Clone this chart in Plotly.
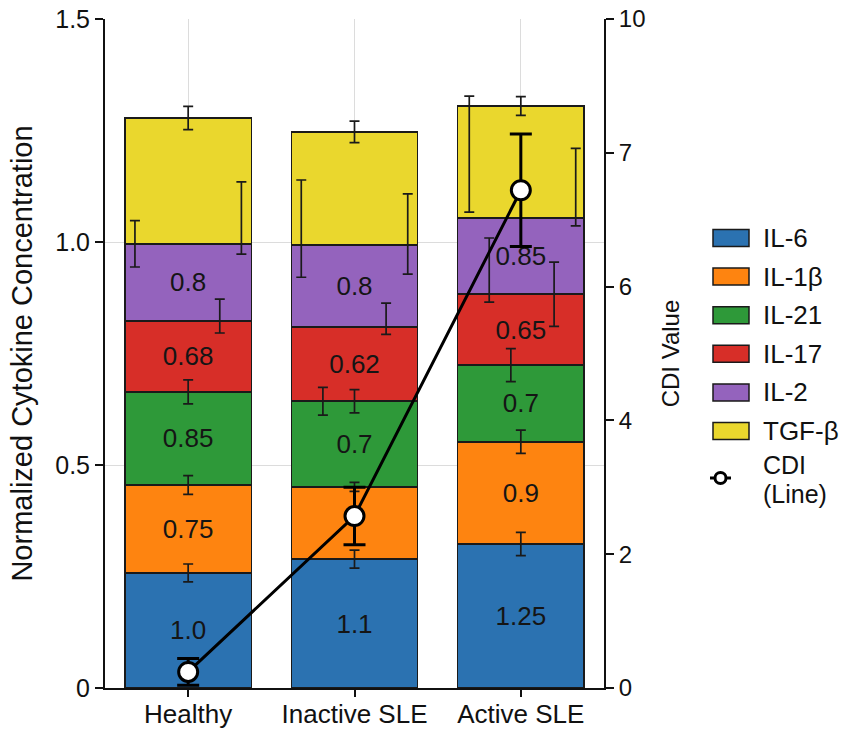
import plotly.graph_objects as go

# ---------------- data ----------------
groups = ["Healthy", "Inactive SLE", "Active SLE"]
cytokines = ["IL-6", "IL-1β", "IL-21", "IL-17", "IL-2", "TGF-β"]

# normalized segment heights (stacked)
il6 = [0.258, 0.289, 0.323]
il1b = [0.197, 0.162, 0.229]
il21 = [0.209, 0.192, 0.172]
il17 = [0.159, 0.166, 0.159]
il2 = [0.173, 0.184, 0.171]
tgfb = [0.282, 0.254, 0.251]

# value labels printed inside the segments
il6_lbl = ["1.0", "1.1", "1.25"]
il1b_lbl = ["0.75", "", "0.9"]
il21_lbl = ["0.85", "0.7", "0.7"]
il17_lbl = ["0.68", "0.62", "0.65"]
il2_lbl = ["0.8", "0.8", "0.85"]
tgfb_lbl = ["", "", ""]

# error bars on cytokine stack (group index, mean, sem)
err_group = [0, 0, 0, 0, 0, 0, 0,
             1, 1, 1, 1, 1, 1, 1, 1,
             2, 2, 2, 2, 2, 2, 2, 2]
err_mean = [0.258, 0.455, 0.664, 0.834, 0.996, 1.054, 1.278,
            0.289, 0.451, 0.643, 0.643, 0.828, 1.030, 1.018, 1.247,
            0.323, 0.552, 0.724, 0.883, 0.937, 1.197, 1.123, 1.305]
err_sem = [0.020, 0.021, 0.027, 0.038, 0.052, 0.081, 0.026,
           0.020, 0.010, 0.031, 0.026, 0.035, 0.109, 0.090, 0.024,
           0.026, 0.026, 0.037, 0.072, 0.072, 0.130, 0.087, 0.021]

# CDI line (right axis)
cdi = [0.24, 2.57, 7.44]
cdi_err = [0.20, 0.43, 0.84]

left_tick_vals = [0, 0.5, 1.0, 1.5]
left_tick_text = ["0", "0.5", "1.0", "1.5"]
right_tick_vals = [0, 2, 4, 6, 8, 10]
right_tick_text = ["0", "2", "4", "6", "7", "10"]

# ---------------- style ----------------
colors = ["#2b72b1", "#fe8410", "#2e9939", "#d72e28", "#9463bd", "#ead72d"]
err_offset = [0, 0, 0, 0.19, -0.32, 0.32, 0,
              0, 0, -0.19, 0, 0.19, -0.32, 0.32, 0,
              0, 0, -0.06, 0.20, -0.19, -0.31, 0.33, 0]
FONT = "Liberation Sans, Arial, Helvetica, sans-serif"
BAR_W = 0.76

series = [il6, il1b, il21, il17, il2, tgfb]
labels = [il6_lbl, il1b_lbl, il21_lbl, il17_lbl, il2_lbl, tgfb_lbl]
xpos = list(range(len(groups)))

fig = go.Figure()
for name, vals, lbl, col in zip(cytokines, series, labels, colors):
    fig.add_trace(go.Bar(
        x=xpos, y=vals, name=name, width=BAR_W,
        marker=dict(color=col, line=dict(color="#1a1a1a", width=1.5)),
        text=lbl, textposition="inside", insidetextanchor="middle",
        textangle=0, constraintext="none",
        textfont=dict(family=FONT, size=26, color="#151515"),
        hoverinfo="skip", showlegend=False,
    ))

for g, m, s, o in zip(err_group, err_mean, err_sem, err_offset):
    fig.add_trace(go.Scatter(
        x=[g + o], y=[m], mode="markers",
        marker=dict(size=1, color="rgba(0,0,0,0)"),
        error_y=dict(type="data", array=[s], color="#1a1a1a", thickness=1.7, width=5),
        showlegend=False, hoverinfo="skip",
    ))

fig.add_trace(go.Scatter(
    x=xpos, y=cdi, yaxis="y2", mode="lines+markers", name="CDI (Line)",
    line=dict(color="black", width=3),
    marker=dict(size=19, color="white", line=dict(color="black", width=3)),
    error_y=dict(type="data", array=cdi_err, color="black", thickness=3, width=11),
    showlegend=False,
))

# ---------------- manual legend ----------------
L, R, T, B = 105, 604, 19, 688
def px_x(px):
    return (px - L) / (R - L)
def px_y(py):
    return (B - py) / (B - T)

shapes = []
annotations = []
leg_top, leg_step = 238, 38.6
for i, (name, col) in enumerate(zip(cytokines, colors)):
    cy = leg_top + i * leg_step
    shapes.append(dict(type="rect", xref="paper", yref="paper",
                       x0=px_x(713), x1=px_x(749), y0=px_y(cy + 8.5), y1=px_y(cy - 8.5),
                       fillcolor=col, line=dict(color="#1a1a1a", width=1.5)))
    annotations.append(dict(text=name, xref="paper", yref="paper",
                            x=px_x(761), y=px_y(cy), xanchor="left", yanchor="middle",
                            showarrow=False, font=dict(family=FONT, size=26, color="#111")))
cy = 478
shapes.append(dict(type="line", xref="paper", yref="paper",
                   x0=px_x(710), x1=px_x(731), y0=px_y(cy), y1=px_y(cy),
                   line=dict(color="black", width=3)))
shapes.append(dict(type="circle", xref="paper", yref="paper",
                   x0=px_x(715), x1=px_x(726), y0=px_y(cy + 5.5), y1=px_y(cy - 5.5),
                   fillcolor="white", line=dict(color="black", width=3)))
for txt, ty in (("CDI", 465), ("(Line)", 494)):
    annotations.append(dict(text=txt, xref="paper", yref="paper",
                            x=px_x(761), y=px_y(ty), xanchor="left", yanchor="middle",
                            showarrow=False, font=dict(family=FONT, size=25, color="#111")))

fig.update_layout(
    width=851, height=731,
    margin=dict(l=L, r=851 - R, t=T, b=731 - B, pad=0, autoexpand=False),
    paper_bgcolor="white", plot_bgcolor="white",
    barmode="stack", bargap=0.24,
    showlegend=False,
    font=dict(family=FONT, color="#111"),
    shapes=shapes, annotations=annotations,
    xaxis=dict(
        range=[-0.5, 2.5], tickvals=xpos, ticktext=groups, automargin=False,
        tickfont=dict(family=FONT, size=26, color="#111"),
        showline=True, linecolor="#111", linewidth=2,
        ticks="outside", ticklen=7, tickwidth=2, tickcolor="#111",
        ticklabelstandoff=-5,
        showgrid=True, gridcolor="#dcdcdc", gridwidth=1, zeroline=False,
    ),
    yaxis=dict(
        range=[0, 1.5], tickvals=left_tick_vals, ticktext=left_tick_text, automargin=False,
        tickfont=dict(family=FONT, size=25, color="#111"),
        showline=True, linecolor="#111", linewidth=2,
        ticks="outside", ticklen=8, tickwidth=2, tickcolor="#111",
        showgrid=True, gridcolor="#dcdcdc", gridwidth=1, zeroline=False,
        title=dict(text="Normalized Cytokine Concentration",
                   font=dict(family=FONT, size=29, color="#111"), standoff=14),
    ),
    yaxis2=dict(
        range=[0, 10], tickvals=right_tick_vals, ticktext=right_tick_text,
        overlaying="y", side="right", anchor="x", automargin=False,
        tickfont=dict(family=FONT, size=24, color="#111"),
        showline=True, linecolor="#111", linewidth=2,
        ticks="outside", ticklen=8, tickwidth=2, tickcolor="#111",
        showgrid=False, zeroline=False,
        title=dict(text="CDI Value",
                   font=dict(family=FONT, size=24, color="#111"), standoff=18),
    ),
)

fig.write_html("out.html", config={"displayModeBar": False},
               post_script="document.body.style.margin='0';document.body.style.overflow='hidden';")
